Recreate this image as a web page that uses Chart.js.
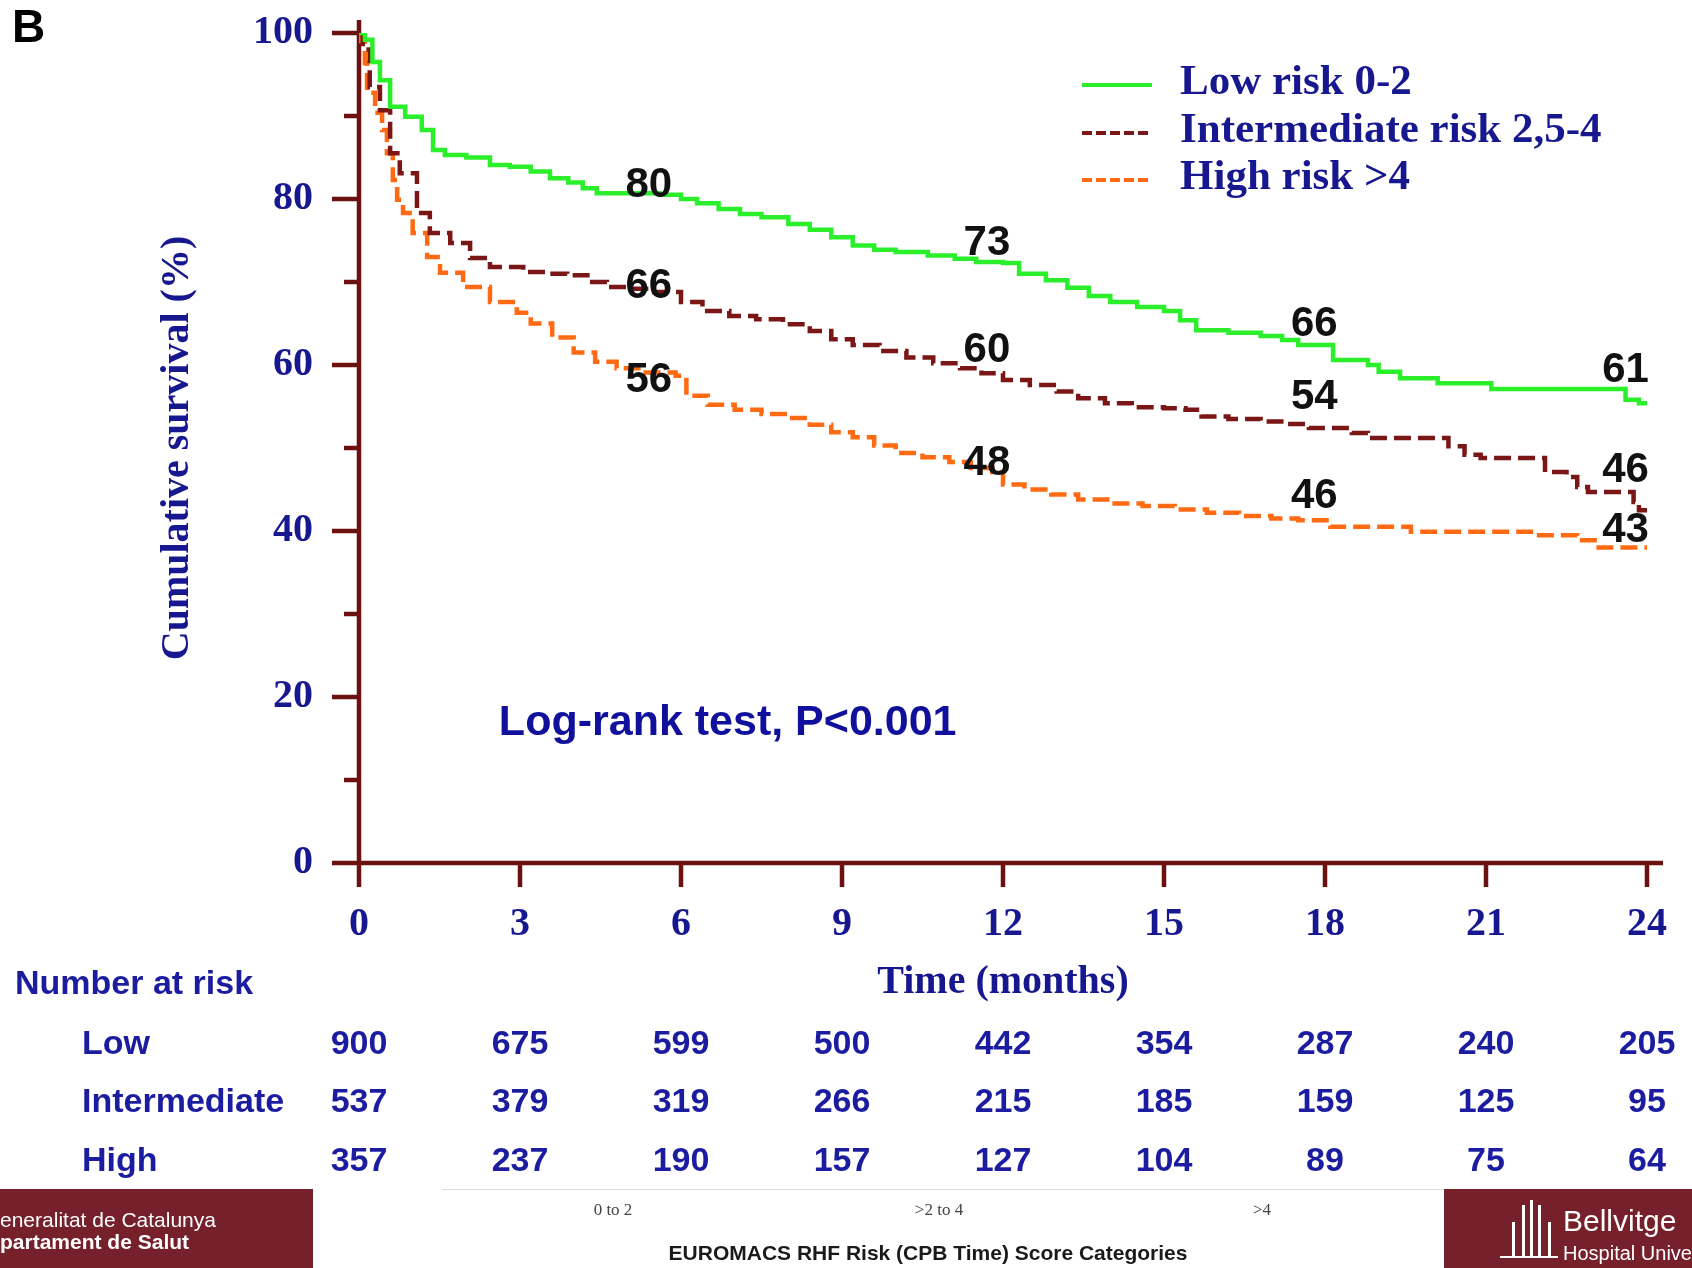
<!DOCTYPE html>
<html>
<head>
<meta charset="utf-8">
<script src="https://cdn.jsdelivr.net/npm/chart.js@4.4.0/dist/chart.umd.min.js"></script>
<style>
    html, body { margin: 0; padding: 0; background: #fff; }
    #wrap { position: relative; width: 1692px; height: 1268px; }
</style>
</head>
<body>
<div id="wrap"><canvas id="km"></canvas></div>
<script>
// Kaplan-Meier curves: time in months, cumulative survival in %
const lowTime = [0, 0.11, 0.25, 0.39, 0.58, 0.86, 1.17, 1.38, 1.6, 2.0, 2.44, 2.81, 3.2, 3.56, 3.9, 4.17, 4.43, 5.0, 5.6, 6.0, 6.3, 6.7, 7.1, 7.5, 8.0, 8.4, 8.8, 9.2, 9.6, 10.0, 10.6, 11.1, 11.5, 12.0, 12.3, 12.8, 13.2, 13.6, 14.0, 14.5, 15.0, 15.3, 15.6, 16.2, 16.8, 17.2, 17.5, 18.15, 18.8, 19.0, 19.4, 20.1, 21.1, 23.6, 23.85, 24.0];
const lowSurv = [100, 99.2, 96.5, 94.3, 91.1, 89.9, 88.3, 85.9, 85.3, 85.0, 84.1, 83.9, 83.3, 82.5, 82.0, 81.3, 80.7, 80.7, 80.5, 80, 79.5, 78.8, 78.2, 77.8, 77, 76.3, 75.4, 74.4, 73.9, 73.6, 73.2, 72.8, 72.4, 72.3, 71, 70.2, 69.3, 68.3, 67.6, 67, 66.5, 65.4, 64.2, 63.9, 63.5, 63.0, 62.4, 60.6, 60.0, 59.2, 58.4, 57.8, 57.1, 55.8, 55.4, 55.4];

const interTime = [0, 0.07, 0.2, 0.39, 0.58, 0.76, 1.08, 1.32, 1.7, 2.07, 2.44, 3.06, 3.5, 3.88, 4.3, 4.62, 5.0, 5.5, 6.0, 6.4, 6.9, 7.4, 7.9, 8.4, 8.8, 9.2, 9.7, 10.2, 10.7, 11.2, 11.6, 12.0, 12.5, 13.0, 13.4, 13.9, 14.4, 15.0, 15.4, 15.7, 16.2, 16.8, 17.3, 17.7, 18.5, 18.8, 20.3, 20.6, 20.9, 22.1, 22.5, 22.7, 22.9, 23.75, 23.85, 24.0];
const interSurv = [100, 98, 93.5, 90.7, 85.5, 83.1, 78.3, 75.9, 74.7, 72.9, 71.8, 71.2, 71.0, 70.8, 70.0, 69.4, 69.2, 68.8, 67.6, 66.5, 65.9, 65.5, 64.9, 64.1, 63.1, 62.4, 61.7, 60.9, 60.2, 59.6, 59.0, 58.2, 57.6, 56.8, 56.0, 55.4, 54.9, 54.8, 54.6, 53.8, 53.5, 53.2, 52.9, 52.4, 51.8, 51.2, 50.2, 49.2, 48.8, 47.1, 46.5, 45.3, 44.7, 43.5, 42.5, 42.5];

const highTime = [0, 0.02, 0.11, 0.15, 0.3, 0.43, 0.52, 0.63, 0.71, 0.82, 1.0, 1.27, 1.51, 1.94, 2.44, 2.94, 3.2, 3.6, 4.0, 4.4, 4.8, 5.3, 5.9, 6.1, 6.5, 7.0, 7.5, 8.0, 8.4, 8.8, 9.2, 9.6, 10.0, 10.5, 11.0, 11.4, 11.8, 12.0, 12.4, 12.9, 13.4, 14.0, 14.6, 15.2, 15.8, 16.4, 17.0, 17.5, 18.1, 19.6, 21.9, 22.7, 23.1, 24.0];
const highSurv = [100, 99, 96.4, 92.8, 90.4, 88.3, 85.5, 82.3, 79.9, 78.3, 75.9, 73, 71.1, 69.4, 67.6, 66.3, 65.0, 63.3, 61.5, 60.4, 59.6, 59.1, 58.7, 56.3, 55.2, 54.6, 54.1, 53.6, 52.8, 51.9, 51.3, 50.3, 49.4, 48.9, 48.3, 47.6, 47.1, 45.6, 45.0, 44.4, 43.8, 43.3, 43.0, 42.6, 42.2, 41.8, 41.5, 41.3, 40.5, 39.9, 39.5, 38.9, 38.0, 38.0];

// survival estimates printed on the curves
const labelMonths = [5.4, 11.7, 17.8, 23.6];
const lowLabels = ['80', '73', '66', '61'];
const lowLabelY = [81.6, 74.7, 64.9, 59.4];
const interLabels = ['66', '60', '54', '46'];
const interLabelY = [69.5, 61.7, 56.1, 47.3];
const highLabels = ['56', '48', '46', '43'];
const highLabelY = [58.2, 48.1, 44.2, 40.1];

// number at risk table
const riskMonths = [0, 3, 6, 9, 12, 15, 18, 21, 24];
const riskGroups = ['Low', 'Intermediate', 'High'];
const riskLow = [900, 675, 599, 500, 442, 354, 287, 240, 205];
const riskInter = [537, 379, 319, 266, 215, 185, 159, 125, 95];
const riskHigh = [357, 237, 190, 157, 127, 104, 89, 75, 64];

const seriesNames = ['Low risk 0-2', 'Intermediate risk 2,5-4', 'High risk >4'];
const categoryLabels = ['0 to 2', '>2 to 4', '>4'];

const colors = {
    low: '#2bef2b',
    inter: '#7a1616',
    high: '#ff6a12',
    axis: '#6c1010',
    navy: '#17178f',
    table: '#1c1ca0',
    box: '#76202b'
};
const serif = "'Liberation Serif', 'Times New Roman', serif";
const sans = "'Liberation Sans', Arial, sans-serif";

const toPoints = (t, s) => t.map((v, i) => ({ x: v, y: s[i] }));

const whiteBg = {
    id: 'whiteBg',
    beforeDraw(chart) {
        const c = chart.ctx;
        c.save();
        c.fillStyle = '#fff';
        c.fillRect(0, 0, chart.width, chart.height);
        c.restore();
    }
};

// axis lines with major/minor tick marks, drawn under the curves
const kmAxes = {
    id: 'kmAxes',
    beforeDatasetsDraw(chart) {
        const { ctx, scales: { x, y } } = chart;
        const x0 = x.getPixelForValue(0);
        const y0 = y.getPixelForValue(0);
        ctx.save();
        ctx.strokeStyle = colors.axis;
        ctx.lineWidth = 4.5;
        ctx.lineCap = 'butt';
        ctx.beginPath();
        ctx.moveTo(x0, y.getPixelForValue(100) - 13);
        ctx.lineTo(x0, y0);
        ctx.moveTo(x0 - 27, y0);
        ctx.lineTo(x.getPixelForValue(24) + 16, y0);
        for (let v = 10; v <= 100; v += 10) {
            const py = y.getPixelForValue(v);
            ctx.moveTo(x0 - (v % 20 === 0 ? 27 : 15), py);
            ctx.lineTo(x0, py);
        }
        for (let m = 0; m <= 24; m += 3) {
            const px = x.getPixelForValue(m);
            ctx.moveTo(px, y0);
            ctx.lineTo(px, y0 + 24);
        }
        ctx.stroke();
        ctx.restore();
    }
};

const kmText = {
    id: 'kmText',
    afterDatasetsDraw(chart) {
        const { ctx, scales: { x, y } } = chart;
        ctx.save();
        ctx.textAlign = 'center';
        ctx.textBaseline = 'middle';
        ctx.fillStyle = '#111';
        ctx.font = `bold 42px ${sans}`;
        const groups = [[lowLabels, lowLabelY], [interLabels, interLabelY], [highLabels, highLabelY]];
        groups.forEach(([txt, ys]) => {
            txt.forEach((t, i) => ctx.fillText(t, x.getPixelForValue(labelMonths[i]), y.getPixelForValue(ys[i])));
        });

        ctx.fillStyle = '#10109c';
        ctx.font = `bold 43px ${sans}`;
        ctx.fillText('Log-rank test, P<0.001', x.getPixelForValue(6.87), y.getPixelForValue(16.9));

        // legend
        const lx = 1082, lw = 70, ly = [85, 133, 180];
        chart.data.datasets.forEach((ds, i) => {
            ctx.strokeStyle = ds.borderColor;
            ctx.lineWidth = 4;
            ctx.setLineDash(ds.borderDash ? [10, 4] : []);
            ctx.beginPath();
            ctx.moveTo(lx, ly[i]);
            ctx.lineTo(lx + lw, ly[i]);
            ctx.stroke();
        });
        ctx.setLineDash([]);
        ctx.fillStyle = colors.navy;
        ctx.textAlign = 'left';
        ctx.font = `bold 43px ${serif}`;
        chart.data.datasets.forEach((ds, i) => ctx.fillText(ds.label, 1180, ly[i] - 2));
        ctx.restore();
    },
    afterDraw(chart) {
        const { ctx, scales: { x } } = chart;
        const base = chart.chartArea.bottom;
        ctx.save();
        ctx.textBaseline = 'middle';

        // panel letter
        ctx.fillStyle = '#000';
        ctx.font = `bold 46px ${sans}`;
        ctx.textAlign = 'left';
        ctx.fillText('B', 12, 29);

        // number at risk
        ctx.fillStyle = colors.table;
        ctx.font = `bold 34px ${sans}`;
        ctx.fillText('Number at risk', 15, base + 122);
        const rows = [riskLow, riskInter, riskHigh];
        const rowY = [182, 240, 299];
        riskGroups.forEach((g, r) => {
            ctx.textAlign = 'left';
            ctx.fillText(g, 82, base + rowY[r]);
            ctx.textAlign = 'center';
            rows[r].forEach((n, i) => ctx.fillText(String(n), x.getPixelForValue(riskMonths[i]), base + rowY[r]));
        });

        // footer strip from the slide
        const fy = 1189;
        ctx.fillStyle = colors.box;
        ctx.fillRect(0, fy, 313, chart.height - fy);
        ctx.fillRect(1444, fy, chart.width - 1444, chart.height - fy);
        ctx.strokeStyle = '#dcdcdc';
        ctx.lineWidth = 1;
        ctx.beginPath();
        ctx.moveTo(442, fy + 0.5);
        ctx.lineTo(1444, fy + 0.5);
        ctx.stroke();

        ctx.fillStyle = '#fff';
        ctx.textAlign = 'left';
        ctx.font = `21px ${sans}`;
        ctx.fillText('eneralitat de Catalunya', 0, 1221);
        ctx.font = `bold 21px ${sans}`;
        ctx.fillText('partament de Salut', 0, 1243);
        ctx.font = `30px ${sans}`;
        ctx.fillText('Bellvitge', 1563, 1223);
        ctx.font = `20px ${sans}`;
        ctx.fillText('Hospital Unive', 1563, 1254);
        // building logo bars
        ctx.fillRect(1500, 1256, 58, 2);
        [[1512, 1222], [1522, 1205], [1530, 1200], [1538, 1205], [1548, 1222]].forEach(([bx, by]) => {
            ctx.fillRect(bx, by, 3, 1256 - by);
        });

        ctx.fillStyle = '#444';
        ctx.textAlign = 'center';
        ctx.font = `17px ${serif}`;
        const catX = [613, 939, 1262];
        categoryLabels.forEach((c, i) => ctx.fillText(c, catX[i], 1211));
        ctx.fillStyle = '#1a1a1a';
        ctx.font = `bold 21px ${sans}`;
        ctx.fillText('EUROMACS RHF Risk (CPB Time) Score Categories', 928, 1254);
        ctx.restore();
    }
};

const lineStyle = {
    borderWidth: 4.5,
    pointRadius: 0,
    stepped: true,
    fill: false
};

new Chart(document.getElementById('km'), {
    type: 'line',
    data: {
        datasets: [
            { ...lineStyle, label: seriesNames[0], data: toPoints(lowTime, lowSurv), borderColor: colors.low },
            { ...lineStyle, label: seriesNames[1], data: toPoints(interTime, interSurv), borderColor: colors.inter, borderDash: [17, 7] },
            { ...lineStyle, label: seriesNames[2], data: toPoints(highTime, highSurv), borderColor: colors.high, borderDash: [17, 7] }
        ]
    },
    options: {
        responsive: true,
        maintainAspectRatio: false,
        animation: false,
        layout: { padding: { left: 0, right: 45, top: 33, bottom: 0 } },
        plugins: {
            legend: { display: false },
            tooltip: { enabled: false }
        },
        scales: {
            x: {
                type: 'linear',
                min: 0,
                max: 24,
                afterFit: (s) => { s.height = 405; s.paddingLeft = 0; s.paddingRight = 0; },
                grid: { display: false, drawTicks: false },
                border: { display: false },
                ticks: {
                    stepSize: 3,
                    padding: 38,
                    color: colors.navy,
                    font: { family: serif, size: 40, weight: 'bold' }
                },
                title: {
                    display: true,
                    text: 'Time (months)',
                    color: colors.navy,
                    font: { family: serif, size: 40, weight: 'bold' },
                    padding: { top: 0, bottom: 261 }
                }
            },
            y: {
                min: 0,
                max: 100,
                afterFit: (s) => { s.width = 359; s.paddingTop = 0; s.paddingBottom = 0; },
                grid: { display: false, drawTicks: false },
                border: { display: false },
                ticks: {
                    stepSize: 20,
                    padding: 46,
                    color: colors.navy,
                    font: { family: serif, size: 40, weight: 'bold' }
                },
                title: {
                    display: true,
                    text: 'Cumulative survival (%)',
                    color: colors.navy,
                    font: { family: serif, size: 40, weight: 'bold' },
                    padding: { top: 154, bottom: 0 }
                }
            }
        }
    },
    plugins: [whiteBg, kmAxes, kmText]
});
</script>
</body>
</html>
